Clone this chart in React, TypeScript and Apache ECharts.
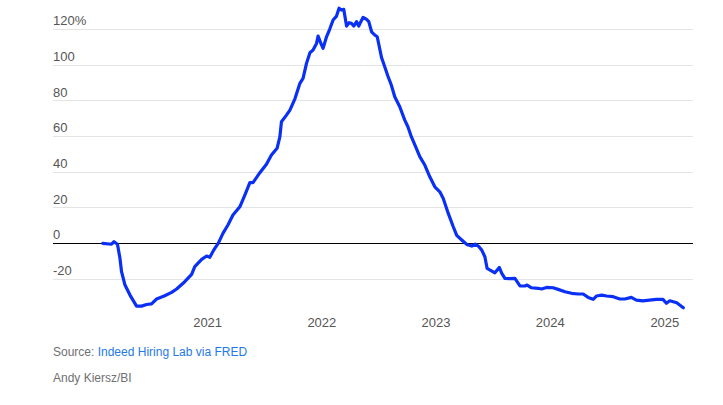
import React, { useEffect, useRef } from "react";
import * as echarts from "echarts";

const dates: string[] = [
  "2020-02-01", "2020-02-29", "2020-03-08", "2020-03-19", "2020-03-27", "2020-04-01", "2020-04-12", "2020-04-28",
  "2020-05-19", "2020-06-04", "2020-06-20", "2020-07-06", "2020-07-22", "2020-08-17", "2020-09-08", "2020-09-24",
  "2020-10-20", "2020-11-11", "2020-11-21", "2020-12-13", "2020-12-29", "2021-01-08", "2021-01-19", "2021-01-24",
  "2021-02-04", "2021-02-19", "2021-03-07", "2021-03-23", "2021-04-14", "2021-04-30", "2021-05-16", "2021-05-26",
  "2021-06-17", "2021-07-08", "2021-07-24", "2021-08-11", "2021-08-20", "2021-08-25", "2021-09-10", "2021-09-21",
  "2021-10-07", "2021-10-23", "2021-11-02", "2021-11-13", "2021-11-24", "2021-12-04", "2021-12-15", "2021-12-20",
  "2021-12-28", "2022-01-05", "2022-01-16", "2022-01-26", "2022-02-06", "2022-02-17", "2022-02-25", "2022-03-05",
  "2022-03-12", "2022-03-21", "2022-03-29", "2022-04-06", "2022-04-13", "2022-04-22", "2022-04-29", "2022-05-04",
  "2022-05-13", "2022-05-24", "2022-05-31", "2022-06-09", "2022-06-19", "2022-06-27", "2022-07-11", "2022-07-21",
  "2022-07-31", "2022-08-11", "2022-08-22", "2022-09-07", "2022-09-23", "2022-10-03", "2022-10-14", "2022-10-30",
  "2022-11-10", "2022-11-26", "2022-12-12", "2022-12-28", "2023-01-13", "2023-01-24", "2023-02-09", "2023-02-25",
  "2023-03-08", "2023-03-24", "2023-04-09", "2023-04-25", "2023-05-06", "2023-05-16", "2023-05-27", "2023-06-06",
  "2023-06-13", "2023-06-27", "2023-07-08", "2023-07-22", "2023-07-30", "2023-08-09", "2023-08-25", "2023-09-10",
  "2023-09-26", "2023-10-12", "2023-10-19", "2023-11-02", "2023-11-23", "2023-12-04", "2023-12-20", "2024-01-10",
  "2024-01-26", "2024-02-17", "2024-03-09", "2024-03-30", "2024-04-15", "2024-05-01", "2024-05-17", "2024-05-28",
  "2024-06-13", "2024-06-29", "2024-07-20", "2024-08-10", "2024-08-26", "2024-09-16", "2024-10-02", "2024-10-23",
  "2024-11-13", "2024-12-05", "2024-12-26", "2025-01-06", "2025-01-17", "2025-02-08", "2025-03-01",
];

const values: number[] = [
  0, -0.5, 0.9, -0.5, -8.4, -15.9, -23.4, -29,
  -35.2, -35.2, -34.3, -33.9, -31.2, -29.4, -27.5, -25.6,
  -21.5, -17.4, -13.1, -9, -7.1, -7.8, -4.3, -2.8,
  0, 5.6, 10.3, 15.9, 20.5, 27.1, 34, 34,
  39.6, 44.3, 49.5, 53.3, 59.8, 68.2, 71.9, 74.7,
  81, 89.7, 92.5, 100.9, 106.9, 108.4, 112.1, 116.2,
  112.5, 109.3, 115.8, 120, 125.2, 127.4, 131.8, 130.8,
  131.2, 121.8, 123.7, 123.3, 121.8, 124.3, 121.8, 123.7,
  126.7, 125.6, 124.3, 118.6, 116.8, 115.8, 104, 99,
  93.8, 88.8, 82.2, 76.6, 69.1, 65.4, 59.8, 53.3,
  48.6, 43.9, 37.3, 31.7, 28.9, 25.2, 16.8, 9.3,
  4.5, 1.9, -0.6, -1.5, -0.4, -1.5, -3.8, -7.5,
  -14, -15.4, -16.5, -13.5, -16.8, -19.6, -19.8, -19.6,
  -23.9, -23.9, -23.4, -24.9, -25.2, -25.6, -24.7, -24.9,
  -25.8, -27.1, -28, -28.4, -28.4, -30.3, -31.4, -29.5,
  -29, -29.5, -29.9, -31.2, -31.2, -30.3, -31.8, -32.2,
  -31.8, -31.4, -31.4, -33.6, -32.2, -33.3, -36.1,
];

const yTicks: number[] = [-40, -20, 0, 20, 40, 60, 80, 100, 120];
const xYearLabels: number[] = [2021, 2022, 2023, 2024, 2025];
const xMin = "2019-08-26";
const xMax = "2025-04-01";
const sourceLabel = "Source: ";
const sourceLink = "Indeed Hiring Lab via FRED";
const credit = "Andy Kiersz/BI";

export default function App() {
  const ref = useRef<HTMLDivElement>(null);
  useEffect(() => {
    if (!ref.current) return;
    const chart = echarts.init(ref.current, null, { renderer: "svg" });
    const font = "'Liberation Sans', Arial, sans-serif";
    chart.setOption({
      animation: false,
      grid: {
        left: 53,
        right: 30,
        top: 29.3,
        bottom: 90.3,
        containLabel: false,
        outerBoundsMode: "none",
      },
      xAxis: {
        type: "time",
        min: xMin,
        max: xMax,
        axisLine: { show: false },
        axisTick: { show: false },
        splitLine: { show: false },
        axisLabel: {
          color: "#555",
          fontSize: 13,
          fontFamily: font,
          margin: 1,
          hideOverlap: false,
          formatter: (val: number) => {
            const d = new Date(val);
            const y = d.getFullYear();
            return d.getMonth() === 0 && d.getDate() === 1 && xYearLabels.indexOf(y) >= 0 ? String(y) : "";
          },
        },
      },
      yAxis: {
        type: "value",
        min: yTicks[0],
        max: yTicks[yTicks.length - 1],
        interval: 20,
        axisLine: { show: false },
        axisTick: { show: false },
        splitLine: {
          show: true,
          showMinLine: false,
          lineStyle: { color: "#e4e4e4", width: 1 },
        },
        axisLabel: {
          inside: true,
          margin: 0,
          verticalAlign: "bottom",
          padding: [0, 0, 2, 0],
          color: "#555",
          fontSize: 13,
          fontFamily: font,
          formatter: (v: number) => {
            if (v === yTicks[0]) return "";
            if (v === yTicks[yTicks.length - 1]) return v + "%";
            return String(v);
          },
        },
      },
      series: [
        {
          type: "line",
          data: dates.map((d, i) => [d, values[i]]),
          showSymbol: false,
          symbol: "none",
          clip: false,
          lineStyle: { color: "#0a30f5", width: 3.2, join: "round", cap: "round" },
          z: 3,
          markLine: {
            silent: true,
            symbol: "none",
            label: { show: false },
            lineStyle: { color: "#000", width: 1, type: "solid" },
            data: [{ yAxis: 0 }],
            z: 2,
          },
        },
      ],
      graphic: [
        {
          type: "text",
          left: 53,
          top: 346,
          style: {
            text: "{a|" + sourceLabel + "}{b|" + sourceLink + "}",
            rich: {
              a: { fill: "#707070", fontSize: 12, fontFamily: font },
              b: { fill: "#1f7ae8", fontSize: 12, fontFamily: font },
            },
          },
        },
        {
          type: "text",
          left: 53,
          top: 372,
          style: {
            text: credit,
            fill: "#707070",
            fontSize: 12,
            fontFamily: font,
          },
        },
      ],
    });
    return () => chart.dispose();
  }, []);
  return (
    <div
      ref={ref}
      style={{ position: "fixed", left: 0, top: 0, width: 723, height: 405, background: "#fff" }}
    />
  );
}
